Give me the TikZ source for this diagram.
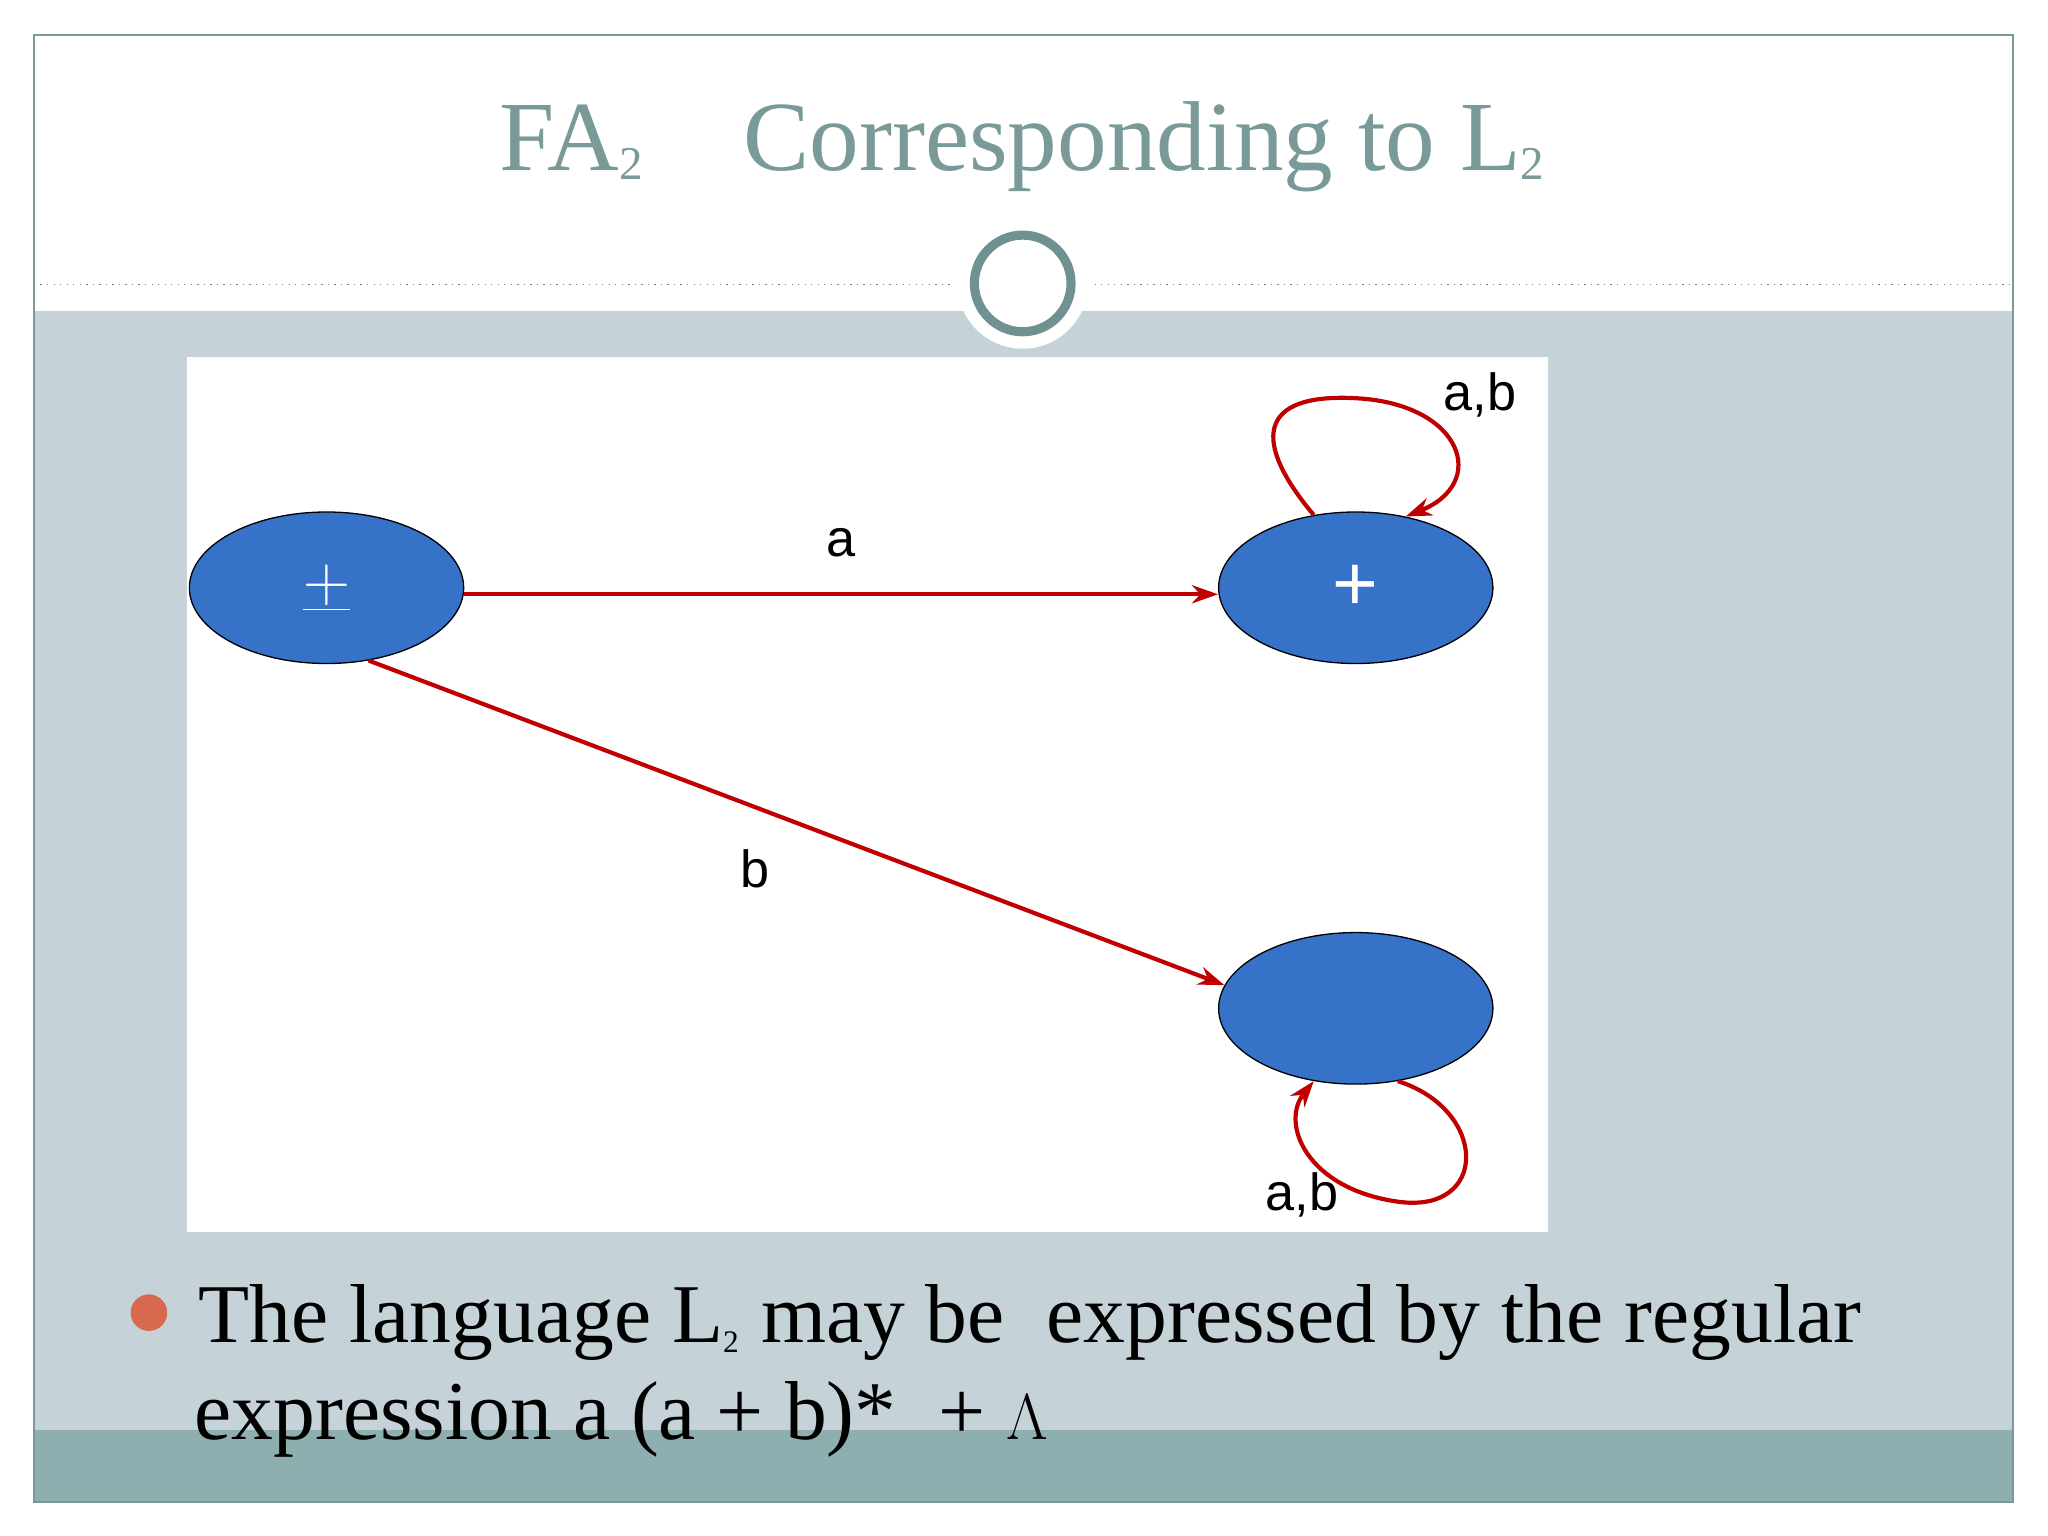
\documentclass[tikz,border=0pt]{standalone}
\usepackage{fontspec}
\setmainfont{Liberation Serif}
\newfontfamily\lsans{Liberation Sans}
\usetikzlibrary{arrows.meta,shapes.geometric}
\definecolor{bgblue}{HTML}{C5D3D8}
\definecolor{band}{HTML}{8FAEAF}
\definecolor{titlec}{HTML}{7A9A9A}
\definecolor{ringc}{HTML}{6F9191}
\definecolor{stblue}{HTML}{3572C8}
\definecolor{edgered}{HTML}{C00000}
\definecolor{bulletc}{HTML}{D9694E}
\begin{document}
\begin{tikzpicture}[x=0.5pt,y=-0.5pt,
  state/.style={ellipse,fill=stblue,draw=black,line width=0.5pt,minimum width=105pt,minimum height=58pt,inner sep=0pt,text=white,font=\lsans\fontsize{30}{30}\selectfont},
  edge/.style={draw=edgered,line width=1.6pt,-{Stealth[length=10pt,width=7pt]}},
  lab/.style={font=\lsans\fontsize{20}{20}\selectfont}]
\useasboundingbox (0,0) rectangle (1568,1176);
\fill[white] (0,0) rectangle (1568,1176);
\fill[bgblue] (26,238) rectangle (1541,1095);
\fill[band] (26,1095) rectangle (1541,1150);
\draw[titlec,line width=0.6pt] (26,27) rectangle (1541,1150);
\draw[gray,dotted,line width=0.5pt] (26,218) -- (730,218) (838,218) -- (1541,218);
\fill[white] (783,217) circle (50);
\draw[ringc,line width=3.5pt,fill=white] (783,217) circle (37);
\node[text=titlec,font=\fontsize{38}{38}\selectfont] (title) at (783,112) {FA\textsubscript{\fontsize{18}{18}\selectfont 2}\quad Corresponding to L\textsubscript{\fontsize{18}{18}\selectfont 2}};
\fill[white] (143,273) rectangle (1185,943);
\node[state] (A) at (250,450) {$\underline{+}$};
\node[state] (B) at (1038,450) {+};
\node[state] (C) at (1038,772) {};
\draw[edge] (A.east |- 0,455) -- node[lab,above=10pt]{a} (B.west |- 0,455);
\draw[edge] (A.-60) -- node[lab,below left=6pt,pos=0.5]{b} (C.170);
\draw[edge] (B.120) .. controls (960,340) and (960,300) .. (1040,305) .. controls (1120,310) and (1140,370) .. (B.55);
\node[lab] (l1) at (1133,302) {a,b};
\draw[edge] (C.-60) .. controls (1140,850) and (1140,930) .. (1070,920) .. controls (1000,910) and (980,860) .. (C.-120);
\node[lab] (l2) at (997,915) {a,b};
\fill[bulletc] (114,1005) circle (14);
\node[anchor=base west,font=\fontsize{32}{32}\selectfont] (t1) at (145,1028) {The language L\textsubscript{\fontsize{12}{12}\selectfont 2} may be\ \ expressed by the regular};
\node[anchor=base west,font=\fontsize{32}{32}\selectfont] (t2) at (142,1102) {expression a (a + b)*\ \ + $\Lambda$};
\end{tikzpicture}
\end{document}
